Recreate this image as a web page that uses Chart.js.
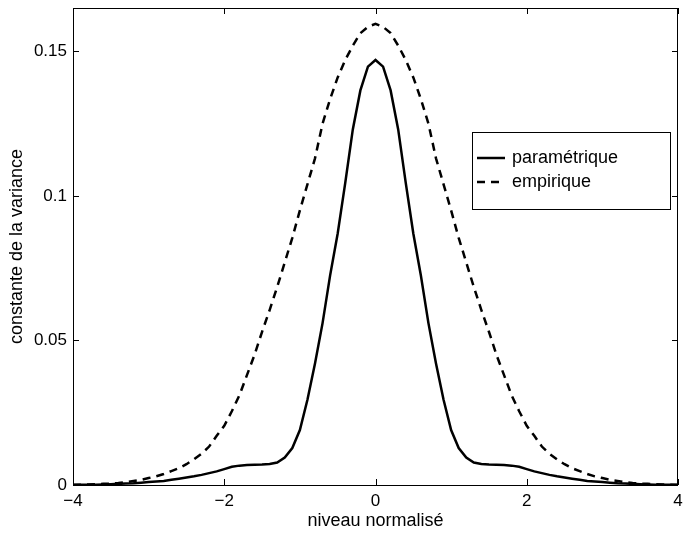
<!DOCTYPE html>
<html>
<head>
<meta charset="utf-8">
<script src="https://cdn.jsdelivr.net/npm/chart.js@4/dist/chart.umd.min.js"></script>
<style>
  html, body { margin: 0; padding: 0; background: #fff; }
</style>
</head>
<body>
<canvas id="chart" width="685" height="538"></canvas>
<script>
// abscissa, one sample every 0.1 from 0 to 4 (curves are symmetric around 0)
const halfLevels = [0, 0.1, 0.2, 0.3, 0.4, 0.5, 0.6, 0.7, 0.8, 0.9,
  1.0, 1.1, 1.2, 1.3, 1.4, 1.5, 1.6, 1.7, 1.8, 1.9,
  2.0, 2.1, 2.2, 2.3, 2.4, 2.5, 2.6, 2.7, 2.8, 2.9,
  3.0, 3.1, 3.2, 3.3, 3.4, 3.5, 3.6, 3.7, 3.8, 3.9, 4.0];

// parametric variance constant (x >= 0 half)
const parametrique = [0.147, 0.1447, 0.1365, 0.123, 0.1045, 0.087, 0.0725, 0.056, 0.042, 0.0295,
  0.019, 0.0128, 0.0095, 0.0078, 0.0073, 0.0071, 0.007, 0.0069, 0.0067, 0.0063,
  0.0055, 0.0047, 0.0041, 0.0035, 0.003, 0.0026, 0.0022, 0.0018, 0.0014, 0.0012,
  0.001, 0.0008, 0.0006, 0.0005, 0.0004, 0.0003, 0.0002, 0.0001, 0.0001, 0.0001, 0];

// empirical variance constant (x >= 0 half)
const empirique = [0.1595, 0.1585, 0.1563, 0.152, 0.147, 0.141, 0.1335, 0.125, 0.113, 0.104,
  0.095, 0.0855, 0.077, 0.0685, 0.0605, 0.053, 0.045, 0.038, 0.031, 0.0255,
  0.0205, 0.017, 0.0133, 0.0108, 0.0089, 0.0072, 0.0058, 0.0048, 0.0038, 0.003,
  0.0024, 0.0018, 0.0014, 0.001, 0.0007, 0.0005, 0.0004, 0.0003, 0.0002, 0.0001, 0.0001];

const xTicks = [-4, -2, 0, 2, 4];
const yTicks = [0, 0.05, 0.1, 0.15];

// mirror the half curves onto -4..4
function fullCurve(vals) {
  const pts = [];
  for (let i = halfLevels.length - 1; i > 0; i--) pts.push({x: -halfLevels[i], y: vals[i]});
  for (let i = 0; i < halfLevels.length; i++) pts.push({x: halfLevels[i], y: vals[i]});
  return pts;
}

const FONT = 'Liberation Sans, Arial, Helvetica, sans-serif';

// box around the plot with inward ticks on all four sides
const boxPlugin = {
  id: 'box',
  afterDraw(chart) {
    const {ctx, chartArea: a, scales} = chart;
    ctx.save();
    ctx.strokeStyle = '#000';
    ctx.lineWidth = 1;
    ctx.strokeRect(a.left + 0.5, a.top + 0.5, a.right - a.left - 1, a.bottom - a.top);
    const len = 6;
    ctx.beginPath();
    xTicks.forEach(v => {
      const px = Math.round(scales.x.getPixelForValue(v)) + 0.5;
      ctx.moveTo(px, a.bottom); ctx.lineTo(px, a.bottom - len);
      ctx.moveTo(px, a.top); ctx.lineTo(px, a.top + len);
    });
    yTicks.forEach(v => {
      const py = Math.round(scales.y.getPixelForValue(v)) + 0.5;
      ctx.moveTo(a.left, py); ctx.lineTo(a.left + len, py);
      ctx.moveTo(a.right, py); ctx.lineTo(a.right - len, py);
    });
    ctx.stroke();
    ctx.restore();
  }
};

// legend box inside the plot, right side
const legendPlugin = {
  id: 'boxLegend',
  afterDraw(chart) {
    const {ctx} = chart;
    const bx = 472, by = 132, bw = 198, bh = 77;
    ctx.save();
    ctx.fillStyle = '#fff';
    ctx.fillRect(bx, by, bw, bh);
    ctx.strokeStyle = '#000';
    ctx.lineWidth = 1;
    ctx.strokeRect(bx + 0.5, by + 0.5, bw, bh);
    const rows = [158, 182];
    chart.data.datasets.forEach((ds, i) => {
      const y = rows[i];
      ctx.beginPath();
      ctx.setLineDash(ds.borderDash || []);
      ctx.lineWidth = ds.borderWidth;
      ctx.moveTo(477, y);
      ctx.lineTo(505, y);
      ctx.stroke();
      ctx.setLineDash([]);
      ctx.fillStyle = '#000';
      ctx.font = '18px ' + FONT;
      ctx.textBaseline = 'middle';
      ctx.textAlign = 'left';
      ctx.fillText(ds.label, 512, y);
    });
    ctx.restore();
  }
};

const fmt = v => (v < 0 ? '\u2212' + Math.abs(v) : String(v));

new Chart(document.getElementById('chart'), {
  type: 'line',
  data: {
    datasets: [
      {
        label: 'paramétrique',
        data: fullCurve(parametrique),
        borderColor: '#000',
        borderWidth: 2.5,
        pointRadius: 0,
        tension: 0,
        fill: false
      },
      {
        label: 'empirique',
        data: fullCurve(empirique),
        borderColor: '#000',
        borderWidth: 2.5,
        borderDash: [8, 6],
        pointRadius: 0,
        tension: 0,
        fill: false
      }
    ]
  },
  options: {
    responsive: false,
    animation: false,
    layout: { padding: { left: 0, right: 7, top: 8, bottom: 0 } },
    plugins: { legend: { display: false }, tooltip: { enabled: false } },
    scales: {
      x: {
        type: 'linear',
        min: -4,
        max: 4,
        afterBuildTicks: s => { s.ticks = xTicks.map(v => ({value: v})); },
        afterFit: s => {
          s.height = 53;
          s.paddingLeft = 0;
          s.paddingRight = 0;
        },
        grid: { display: false, drawTicks: false },
        border: { display: false },
        ticks: {
          color: '#000',
          font: { family: FONT, size: 17 },
          padding: 6,
          maxRotation: 0,
          callback: v => fmt(v)
        },
        title: {
          display: true,
          text: 'niveau normalisé',
          color: '#000',
          font: { family: FONT, size: 18 },
          padding: { top: 0, bottom: 6 }
        }
      },
      y: {
        type: 'linear',
        min: 0,
        max: 0.165,
        afterBuildTicks: s => { s.ticks = yTicks.map(v => ({value: v})); },
        afterFit: s => {
          s.width = 73;
          s.paddingTop = 0;
          s.paddingBottom = 0;
        },
        grid: { display: false, drawTicks: false },
        border: { display: false },
        ticks: {
          color: '#000',
          font: { family: FONT, size: 17 },
          padding: 6,
          callback: v => fmt(v)
        },
        title: {
          display: true,
          text: 'constante de la variance',
          color: '#000',
          font: { family: FONT, size: 18 },
          padding: { top: 6, bottom: 0 }
        }
      }
    }
  },
  plugins: [boxPlugin, legendPlugin]
});
</script>
</body>
</html>
